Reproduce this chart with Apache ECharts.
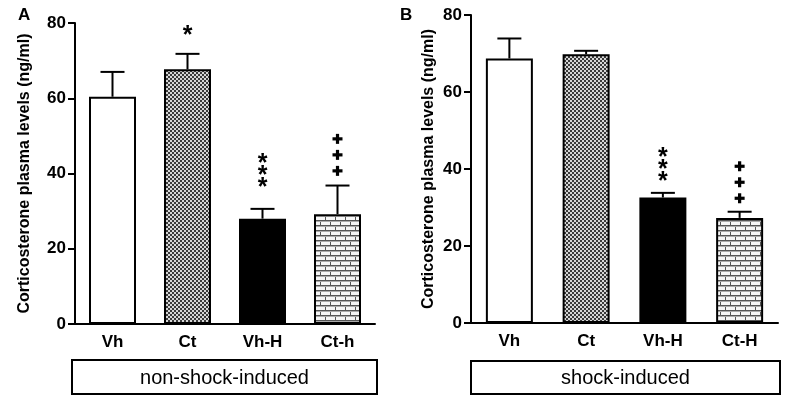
<!DOCTYPE html>
<html>
<head>
<meta charset="utf-8">
<script src="https://cdn.jsdelivr.net/npm/echarts@6/dist/echarts.min.js"></script>
<style>html,body{margin:0;padding:0;background:#fff;}#c{width:797px;height:401px;}</style>
</head>
<body>
<div id="c"></div>
<script>
// ---- data ----
const categoriesA = ['Vh', 'Ct', 'Vh-H', 'Ct-h'];
const categoriesB = ['Vh', 'Ct', 'Vh-H', 'Ct-H'];
const meansA = [60.4, 67.7, 28.0, 29.2];
const semA = [6.6, 4.1, 2.6, 7.6];
const meansB = [68.7, 69.8, 32.6, 27.3];
const semB = [5.2, 0.9, 1.2, 1.6];
const marksA = ['', '*', '***', '+++'];
const marksB = ['', '', '***', '+++'];
const markLevelA = [0, 78.1, 37.7, 40.7];
const markLevelB = [0, 0, 37.9, 32.4];
const yMin = 0, yMax = 80, yStep = 20;
const groupA = 'non-shock-induced';
const groupB = 'shock-induced';

const FONT = '"Liberation Sans", Arial, sans-serif';

function checker() {
  const c = document.createElement('canvas');
  c.width = 4; c.height = 4;
  const x = c.getContext('2d');
  x.fillStyle = '#d6d6d6'; x.fillRect(0, 0, 4, 4);
  x.fillStyle = '#3a3a3a'; x.fillRect(0, 0, 2, 2); x.fillRect(2, 2, 2, 2);
  return c;
}
function brick() {
  const c = document.createElement('canvas');
  c.width = 10; c.height = 10;
  const x = c.getContext('2d');
  x.fillStyle = '#f6f6f6'; x.fillRect(0, 0, 10, 10);
  x.fillStyle = '#555'; x.fillRect(0, 0, 10, 1); x.fillRect(0, 5, 10, 1);
  x.fillRect(0, 0, 1, 5); x.fillRect(5, 5, 1, 5);
  x.fillStyle = '#aaa'; x.fillRect(0, 1, 10, 1); x.fillRect(0, 6, 10, 1);
  return c;
}
const fills = ['#ffffff', { image: checker(), repeat: 'repeat' }, '#000000', { image: brick(), repeat: 'repeat' }];

function yAxis(gi, gap) {
  return {
    type: 'value', gridIndex: gi, min: yMin, max: yMax, interval: yStep,
    name: 'Corticosterone plasma levels (ng/ml)', nameLocation: 'middle', nameRotate: 90, nameGap: gap,
    nameTextStyle: { fontFamily: FONT, fontWeight: 'bold', fontSize: 16, color: '#000' },
    axisLine: { show: true, lineStyle: { color: '#000', width: 2 } },
    axisTick: { show: true, length: 7, lineStyle: { color: '#000', width: 2 } },
    axisLabel: { fontFamily: FONT, fontWeight: 'bold', fontSize: 17, color: '#000', margin: 9 },
    splitLine: { show: false }
  };
}
function xAxis(gi, cats) {
  return {
    type: 'category', gridIndex: gi, data: cats,
    axisLine: { lineStyle: { color: '#000', width: 2 } },
    axisTick: { alignWithLabel: true, length: 6, lineStyle: { color: '#000', width: 2 } },
    axisLabel: { fontFamily: FONT, fontWeight: 'bold', fontSize: 17, color: '#000', margin: 10 }
  };
}
function barSeries(gi, means) {
  return {
    type: 'bar', xAxisIndex: gi, yAxisIndex: gi, barWidth: 47, z: 2,
    data: means.map((v, i) => ({ value: v, itemStyle: { color: fills[i], borderColor: '#000', borderWidth: 2 } }))
  };
}
function errSeries(gi, means, sems) {
  return {
    type: 'custom', xAxisIndex: gi, yAxisIndex: gi, z: 1, clip: false,
    data: means.map((m, i) => [i, m, sems[i]]),
    renderItem: function (params, api) {
      const i = api.value(0), m = api.value(1), s = api.value(2);
      const p0 = api.coord([i, m]), p1 = api.coord([i, m + s]);
      const hw = 12;
      const st = { stroke: '#000', lineWidth: 2 };
      return { type: 'group', children: [
        { type: 'line', shape: { x1: p0[0], y1: p0[1], x2: p1[0], y2: p1[1] }, style: st },
        { type: 'line', shape: { x1: p1[0] - hw, y1: p1[1], x2: p1[0] + hw, y2: p1[1] }, style: st }
      ] };
    }
  };
}
function markSeries(gi, marks, levels) {
  return {
    type: 'custom', xAxisIndex: gi, yAxisIndex: gi, z: 5, clip: false,
    data: levels.map((v, i) => [i, v]),
    renderItem: function (params, api) {
      const idx = params.dataIndex;
      const str = marks[idx];
      if (!str) return null;
      const p = api.coord([api.value(0), api.value(1)]);
      const isStar = str[0] === '*';
      const spacing = isStar ? 12 : 16;
      const children = [];
      for (let k = 0; k < str.length; k++) {
        const cy = p[1] - k * spacing;
        if (isStar) {
          const fs = 25;
          children.push({ type: 'text', style: {
            text: '*', x: p[0], y: cy + 0.22 * fs,
            textAlign: 'center', textVerticalAlign: 'middle',
            font: 'bold ' + fs + 'px ' + FONT, fill: '#000'
          } });
        } else {
          const a = 5, t = 1.6;
          children.push({ type: 'rect', shape: { x: p[0] - a, y: cy - t, width: 2 * a, height: 2 * t }, style: { fill: '#000' } });
          children.push({ type: 'rect', shape: { x: p[0] - t, y: cy - a, width: 2 * t, height: 2 * a }, style: { fill: '#000' } });
        }
      }
      return { type: 'group', children: children };
    }
  };
}

const chart = echarts.init(document.getElementById('c'), null, { renderer: 'canvas' });
chart.setOption({
  animation: false,
  backgroundColor: '#fff',
  grid: [
    { left: 75, top: 23, width: 300, height: 301 },
    { left: 471, top: 15, width: 307, height: 308 }
  ],
  xAxis: [xAxis(0, categoriesA), xAxis(1, categoriesB)],
  yAxis: [yAxis(0, 42), yAxis(1, 34)],
  series: [
    errSeries(0, meansA, semA), barSeries(0, meansA), markSeries(0, marksA, markLevelA),
    errSeries(1, meansB, semB), barSeries(1, meansB), markSeries(1, marksB, markLevelB)
  ],
  graphic: [
    { type: 'text', left: 18, top: 7, style: { text: 'A', font: 'bold 17px ' + FONT, fill: '#000' } },
    { type: 'text', left: 400, top: 7, style: { text: 'B', font: 'bold 17px ' + FONT, fill: '#000' } },
    { type: 'rect', shape: { x: 72, y: 360, width: 305, height: 34 }, style: { fill: '#fff', stroke: '#000', lineWidth: 2 } },
    { type: 'rect', shape: { x: 471, y: 361, width: 309, height: 33 }, style: { fill: '#fff', stroke: '#000', lineWidth: 2 } },
    { type: 'text', x: 224.5, y: 378, style: { text: groupA, font: '20px ' + FONT, fill: '#000', textAlign: 'center', textVerticalAlign: 'middle' } },
    { type: 'text', x: 625.5, y: 378, style: { text: groupB, font: '20px ' + FONT, fill: '#000', textAlign: 'center', textVerticalAlign: 'middle' } }
  ]
});
</script>
</body>
</html>
